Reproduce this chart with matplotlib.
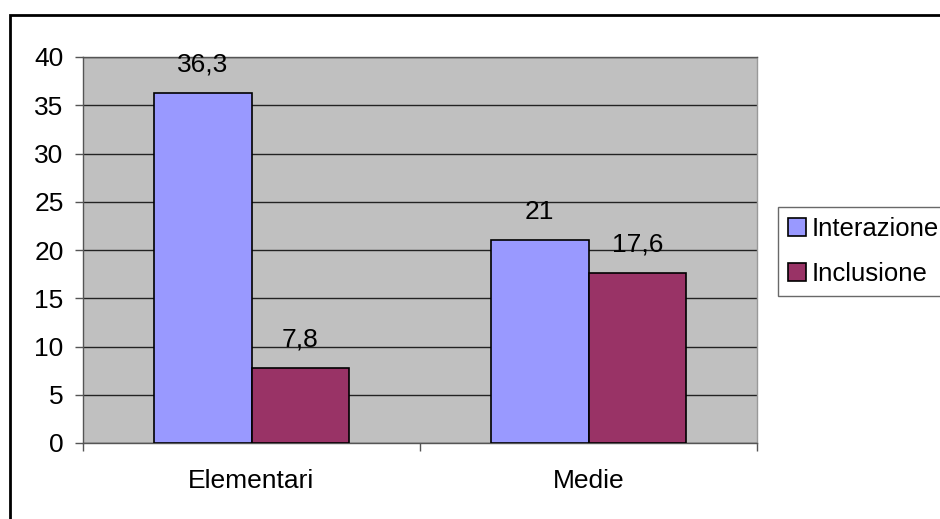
import numpy as np
import matplotlib.pyplot as plt
from matplotlib.patches import Rectangle

plt.rcParams['font.family'] = ['Liberation Sans', 'DejaVu Sans']

categories = ['Elementari', 'Medie']
interazione = [36.3, 21]
inclusione = [7.8, 17.6]
series_names = ['Interazione', 'Inclusione']
yticks = [0, 5, 10, 15, 20, 25, 30, 35, 40]

fig = plt.figure(figsize=(9.4, 5.19), dpi=100)
ax = fig.add_axes([83 / 940, 1 - 443 / 519, (757 - 83) / 940, (443 - 57) / 519])
ax.set_facecolor('#c0c0c0')

x = np.arange(len(categories))
w = 0.289
b1 = ax.bar(x - w / 2, interazione, w, color='#9999ff', edgecolor='black', lw=1.2,
            label=series_names[0], zorder=3)
b2 = ax.bar(x + w / 2, inclusione, w, color='#993366', edgecolor='black', lw=1.2,
            label=series_names[1], zorder=3)

for bars, vals in [(b1, interazione), (b2, inclusione)]:
    for rect, v in zip(bars, vals):
        ax.annotate(f'{v:g}'.replace('.', ','),
                    (rect.get_x() + rect.get_width() / 2, v),
                    xytext=(0, 20.5), textcoords='offset points',
                    ha='center', va='center', fontsize=19, zorder=5)

ax.set_ylim(0, 40)
ax.set_xlim(-0.5, 1.5)
ax.set_yticks(yticks)
ax.yaxis.grid(True, color='#222222', lw=1)
ax.set_axisbelow(True)
ax.tick_params(axis='y', length=6, width=1, color='#555555', pad=8, labelsize=19)

# category ticks sit on the boundaries, labels at the centres
ax.set_xticks([-0.5, 0.5, 1.5])
ax.set_xticklabels([])
ax.set_xticks(x, minor=True)
ax.set_xticklabels(categories, minor=True)
ax.tick_params(axis='x', which='major', length=6, width=1, color='#555555')
ax.tick_params(axis='x', which='minor', length=0, pad=19, labelsize=19)

for s in ['left', 'bottom', 'top']:
    ax.spines[s].set_color('#555555')
    ax.spines[s].set_linewidth(1)
ax.spines['right'].set_color('#999999')
ax.spines['right'].set_linewidth(1)

leg = fig.legend(handles=[b1, b2], loc='upper left',
                 bbox_to_anchor=(778 / 940, 1 - 207 / 519),
                 frameon=True, fancybox=False, fontsize=18.5,
                 handlelength=0.7, handleheight=0.7, handletextpad=0.2,
                 borderpad=0.4, labelspacing=0.8, borderaxespad=0)
leg.get_frame().set_edgecolor('#444444')
leg.get_frame().set_linewidth(1)

fig.patches.append(Rectangle((10 / 940, -0.5), 1.5, 1.5 - 14.5 / 519,
                             transform=fig.transFigure, fill=False,
                             edgecolor='black', lw=2))

fig.savefig('out.png', dpi=100)
